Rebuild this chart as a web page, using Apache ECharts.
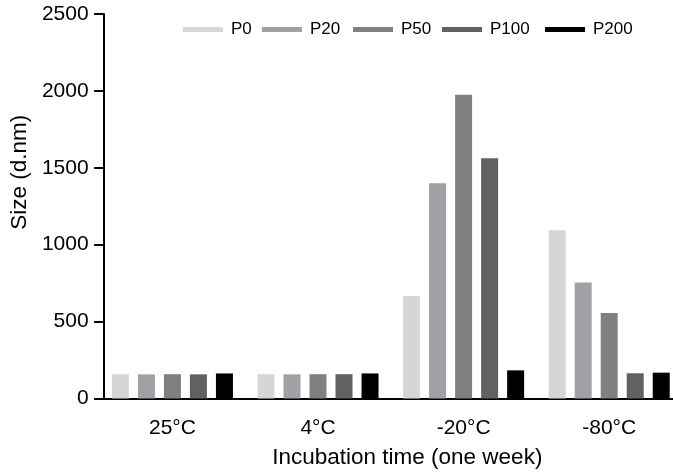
<!DOCTYPE html>
<html>
<head>
<meta charset="utf-8">
<script src="https://cdn.jsdelivr.net/npm/echarts@6/dist/echarts.min.js"></script>
<style>html,body{margin:0;padding:0;background:#fff;overflow:hidden}#c{width:690px;height:475px}</style>
</head>
<body>
<div id="c"></div>
<script>
const categories = ['25°C', '4°C', '-20°C', '-80°C'];
const seriesNames = ['P0', 'P20', 'P50', 'P100', 'P200'];
const P0 = [158, 158, 666, 1094];
const P20 = [157, 157, 1399, 755];
const P50 = [158, 158, 1975, 556];
const P100 = [157, 158, 1562, 164];
const P200 = [163, 163, 183, 168];
const yTicks = [0, 500, 1000, 1500, 2000, 2500];
const colors = ['#d6d6d6', '#a1a1a5', '#808080', '#616161', '#000000'];
const legendLefts = [183, 262, 353, 442, 545];

const values = [P0, P20, P50, P100, P200];
const font = '"Liberation Sans", Arial, sans-serif';

const chart = echarts.init(document.getElementById('c'));
chart.setOption({
  animation: false,
  backgroundColor: '#fff',
  textStyle: { fontFamily: font, color: '#000' },
  color: colors,
  grid: { left: 97, width: 585, top: 14, bottom: 76.5 },
  legend: seriesNames.map((n, i) => ({
    data: [n],
    left: legendLefts[i],
    top: 21,
    padding: 0,
    itemWidth: 40,
    itemHeight: 5,
    icon: 'rect',
    textStyle: { fontFamily: font, fontSize: 17, color: '#000', padding: [0, 0, 0, 3] },
    selectedMode: false
  })),
  xAxis: {
    type: 'category',
    data: categories,
    name: 'Incubation time (one week)',
    nameLocation: 'middle',
    nameGap: 48,
    nameTextStyle: { fontFamily: font, fontSize: 22.5, color: '#000', padding: [0, 0, 0, 33] },
    axisLine: { lineStyle: { color: '#000', width: 2 } },
    axisTick: { alignWithLabel: true, length: 10, lineStyle: { color: '#000', width: 2 } },
    axisLabel: { fontFamily: font, fontSize: 21, color: '#000', margin: 19 },
    splitLine: { show: false }
  },
  yAxis: {
    type: 'value',
    min: 0,
    max: 2500,
    interval: 500,
    offset: -4.5,
    name: 'Size (d.nm)',
    nameLocation: 'middle',
    nameGap: 66,
    nameTextStyle: { fontFamily: font, fontSize: 22.5, color: '#000', padding: [0, 0, 0, 68] },
    axisLine: { show: true, lineStyle: { color: '#000', width: 2 } },
    axisTick: { show: true, length: 10, lineStyle: { color: '#000', width: 2 } },
    axisLabel: {
      fontFamily: font, fontSize: 21, color: '#000', margin: 15.5,
      formatter: v => (yTicks.indexOf(v) >= 0 ? String(v) : '')
    },
    splitLine: { show: false }
  },
  series: seriesNames.map((n, i) => ({
    name: n,
    type: 'bar',
    data: values[i],
    barWidth: 17,
    barGap: '53%',
    itemStyle: { color: colors[i] }
  }))
});
</script>
</body>
</html>
